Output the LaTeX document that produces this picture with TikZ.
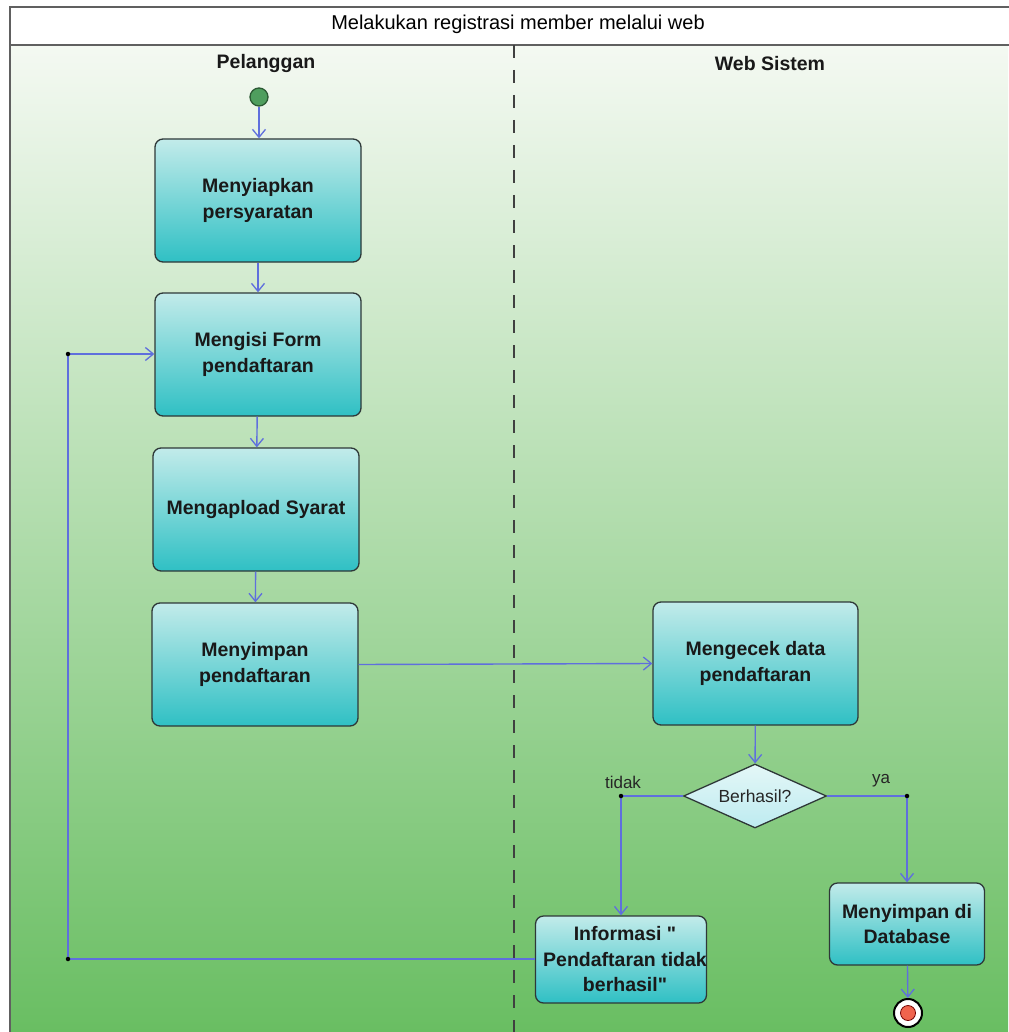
\documentclass[tikz,border=0pt]{standalone}
\usepackage{fontspec}
\setmainfont{Liberation Sans}
\usetikzlibrary{arrows.meta,shapes.geometric,calc}
\definecolor{flowc}{HTML}{5F6FDD}
\definecolor{frame}{HTML}{606060}
\definecolor{bgtop}{HTML}{F4F9F2}
\definecolor{bgbot}{HTML}{69BE62}
\definecolor{boxtop}{HTML}{C2EBEA}
\definecolor{boxbot}{HTML}{2FC0C4}
\definecolor{boxline}{HTML}{2E3838}
\definecolor{dtop}{HTML}{E4F7F7}
\definecolor{dbot}{HTML}{BDEBF0}
\definecolor{startg}{HTML}{4F9E5E}
\definecolor{startl}{HTML}{2C5A34}
\definecolor{endr}{HTML}{F0644E}
\tikzset{
  actbox/.style={draw=boxline, line width=1.3pt, rounded corners=8pt,
    top color=boxtop, bottom color=boxbot, align=center, inner sep=0pt,
    font=\bfseries\fontsize{19.5}{25.5}\selectfont, text=black!90},
  decis/.style={diamond, aspect=2.2, draw=boxline, line width=1.3pt,
    top color=dtop, bottom color=dbot, inner sep=0pt,
    minimum width=143pt, minimum height=64pt,
    font=\fontsize{17.5}{20}\selectfont, text=black!85},
  flow/.style={draw=flowc, line width=1.4pt, -{Straight Barb[length=8pt,width=13pt,line width=1.3pt]}},
  jdot/.style={circle, fill=black, inner sep=0pt, minimum size=4.5pt},
  lbl/.style={font=\fontsize{17}{20}\selectfont, text=black!85},
  lanehead/.style={font=\bfseries\fontsize{19.5}{22}\selectfont, text=black!90},
}
\begin{document}
\begin{tikzpicture}[x=1pt,y=-1pt]
\useasboundingbox (0,0) rectangle (1008,1032);
% background
\fill[white] (0,0) rectangle (1008,1032);
\shade[top color=bgtop, bottom color=bgbot] (10,45) rectangle (1008,1032);
% frame
\draw[frame, line width=2pt] (1012,7) -- (10,7) -- (10,1034);
\draw[frame, line width=2pt] (10,45) -- (1012,45);
\node[font=\fontsize{20}{22}\selectfont, text=black] (title) at (518,24) {Melakukan registrasi member melalui web};
% lane divider
\draw[black!75, line width=1.5pt, dash pattern=on 13pt off 12pt] (514,45) -- (514,1032);
\node[lanehead] (lane1) at (266,64) {Pelanggan};
\node[lanehead] (lane2) at (770,64) {Web Sistem};
% nodes
\node[circle, draw=startl, line width=1.3pt, fill=startg, minimum size=18pt, inner sep=0pt] (start) at (259,97) {};
\node[actbox, minimum width=206pt, minimum height=123pt] (n1) at (258,200.5) {Menyiapkan\\persyaratan};
\node[actbox, minimum width=206pt, minimum height=123pt] (n2) at (258,354.5) {Mengisi Form\\pendaftaran};
\node[actbox, minimum width=206pt, minimum height=123pt] (n3) at (256,509.5) {Mengapload Syarat};
\node[actbox, minimum width=206pt, minimum height=123pt] (n4) at (255,664.5) {Menyimpan\\pendaftaran};
\node[actbox, minimum width=205pt, minimum height=123pt] (n5) at (755.5,663.5) {Mengecek data\\pendaftaran};
\node[decis] (d) at (755,796) {Berhasil?};
\node[actbox, minimum width=171pt, minimum height=87pt] (n6) at (621,959.5) {};
\node[font=\bfseries\fontsize{19.5}{25.5}\selectfont, text=black!90, align=center, inner sep=0pt] (n6t) at (625,959.5) {Informasi \textquotedbl\\Pendaftaran tidak\\berhasil\textquotedbl};
\node[actbox, minimum width=155pt, minimum height=82pt] (n7) at (907,924) {Menyimpan di\\Database};
\node[circle, draw=black, line width=2pt, fill=white, minimum size=28pt, inner sep=0pt] (end) at (908,1013) {};
\node[circle, draw=red!45!black, line width=0.8pt, fill=endr, minimum size=15pt, inner sep=0pt] (endin) at (end) {};
% junction coordinates
\coordinate (jt) at (n6.north |- d.west);
\coordinate (jy) at (n7.north |- d.east);
\coordinate (jb) at (68,959);
\coordinate (ja) at (68,354);
% connectors
\draw[flow] (start) -- (start |- n1.north);
\draw[flow] (n1) -- (n2);
\draw[flow] (n2) -- (n3);
\draw[flow] (n3) -- (n4);
\draw[flow] (n4.east) -- (n5.west);
\draw[flow] (n5) -- (d);
\draw[flow] (d.west) -- (jt) -- (n6.north);
\draw[flow] (d.east) -- (jy) -- (n7.north);
\draw[flow] (n7) -- (end);
\draw[flow] (n6.west |- jb) -- (jb) -- (ja) -- (ja -| n2.west);
\node[jdot] (dt) at (jt) {};
\node[jdot] (dy) at (jy) {};
\node[jdot] (da) at (ja) {};
\node[jdot] (db) at (jb) {};
\node[lbl] (ltidak) at (623,782) {tidak};
\node[lbl] (lya) at (881,781) {ya};
\end{tikzpicture}
\end{document}
